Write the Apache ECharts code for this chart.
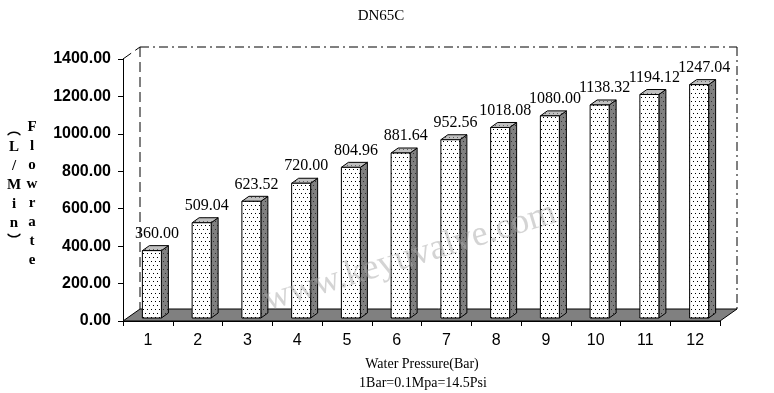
<!DOCTYPE html>
<html>
<head>
<meta charset="utf-8">
<script src="https://cdn.jsdelivr.net/npm/echarts@6/dist/echarts.min.js"></script>
<style>
html,body{margin:0;padding:0;background:#fff;}
#chart{width:774px;height:393px;}
</style>
</head>
<body>
<div id="chart"></div>
<script>
const categories = ['1','2','3','4','5','6','7','8','9','10','11','12'];
const flowValues = [360.00, 509.04, 623.52, 720.00, 804.96, 881.64, 952.56, 1018.08, 1080.00, 1138.32, 1194.12, 1247.04];
const yTicks = [0, 200, 400, 600, 800, 1000, 1200, 1400];
const titleText = 'DN65C';
const xName = 'Water Pressure(Bar)';
const xNote = '1Bar=0.1Mpa=14.5Psi';
const yNameMain = ['F','l','o','w','r','a','t','e'];
const yNameUnit = ['L','/','M','i','n'];
const watermark = 'www.keyuvalve.com';

function makePattern(bg, dot) {
  const c = document.createElement('canvas');
  c.width = 4; c.height = 8;
  const ctx = c.getContext('2d');
  ctx.fillStyle = bg; ctx.fillRect(0, 0, 4, 8);
  ctx.fillStyle = dot;
  ctx.fillRect(1, 1, 1, 1);
  ctx.fillRect(3, 5, 1, 1);
  return c;
}
const frontPat = makePattern('#ffffff', '#000000');
const sidePat = makePattern('#808080', '#303030');
const topPat = makePattern('#c0c0c0', '#606060');

const DX = 17, DY = -12;   // floor / wall depth
const BDX = 7, BDY = -5;    // bar depth
const OX = 4, OY = -3;      // bar offset into depth
const BW = 19;

const chart = echarts.init(document.getElementById('chart'), null, {renderer: 'canvas'});

const serif = '"Liberation Serif", "Times New Roman", serif';
const sans = '"Liberation Sans", Arial, sans-serif';

const option = {
  animation: false,
  backgroundColor: '#ffffff',
  title: {
    text: titleText, left: 376, top: 4, textAlign: 'center',
    textStyle: {fontFamily: serif, fontSize: 15, fontWeight: 'normal', color: '#000'}
  },
  grid: {left: 123, right: 54, top: 59, bottom: 72},
  xAxis: {
    type: 'category', data: categories,
    axisLine: {lineStyle: {color: '#000', width: 1}},
    axisTick: {show: true, length: 5, lineStyle: {color: '#000'}},
    axisLabel: {margin: 12, fontFamily: sans, fontSize: 16, color: '#000'},
    splitLine: {show: false}
  },
  yAxis: {
    type: 'value', min: yTicks[0], max: yTicks[yTicks.length - 1], interval: yTicks[1] - yTicks[0],
    axisLine: {show: true, lineStyle: {color: '#000', width: 1}},
    axisTick: {show: true, length: 5, lineStyle: {color: '#000'}},
    axisLabel: {margin: 12, fontFamily: sans, fontSize: 16, fontWeight: 'bold', color: '#000',
      formatter: v => v.toFixed(2)},
    splitLine: {show: false}
  },
  graphic: [
    {type: 'text', x: 422, y: 364, z: 10, style: {text: xName, font: '14px ' + serif, fill: '#000', textAlign: 'center', textVerticalAlign: 'middle'}},
    {type: 'text', x: 423, y: 383, z: 10, style: {text: xNote, font: '14px ' + serif, fill: '#000', textAlign: 'center', textVerticalAlign: 'middle'}},
    {type: 'text', x: 32, y: 118, z: 10, style: {text: yNameMain.join('\n'), font: 'bold 15px ' + serif, lineHeight: 19, fill: '#000', textAlign: 'center', textVerticalAlign: 'top'}},
    {type: 'text', x: 14, y: 138, z: 10, style: {text: yNameUnit.join('\n'), font: 'bold 15px ' + serif, lineHeight: 19, fill: '#000', textAlign: 'center', textVerticalAlign: 'top'}},
    {type: 'text', x: 14, y: 129, z: 10, style: {text: '︵', font: 'bold 14px "Noto Sans CJK SC"', fill: '#000', textAlign: 'center', textVerticalAlign: 'middle'}},
    {type: 'text', x: 14, y: 240, z: 10, style: {text: '︶', font: 'bold 14px "Noto Sans CJK SC"', fill: '#000', textAlign: 'center', textVerticalAlign: 'middle'}},
    {type: 'text', x: 410, y: 257, rotation: 17 * Math.PI / 180, z: 100, style: {text: watermark, font: '36px ' + serif, fill: 'rgba(170,170,170,0.5)', textAlign: 'center', textVerticalAlign: 'middle'}}
  ],
  series: [
    {
      type: 'custom', z: 1, silent: true,
      data: [[0]],
      renderItem: function (params, api) {
        const cs = params.coordSys;
        const L = cs.x, R = cs.x + cs.width, T = cs.y, B = cs.y + cs.height;
        const dash = [9, 4, 2, 4];
        return {
          type: 'group',
          children: [
            {type: 'polygon', shape: {points: [[L, B], [R, B], [R + DX, B + DY], [L + DX, B + DY]]},
              style: {fill: '#808080', stroke: '#000', lineWidth: 1}},
            {type: 'line', shape: {x1: L + DX, y1: T + DY, x2: R + DX, y2: T + DY}, style: {stroke: '#000', lineWidth: 1, lineDash: dash}},
            {type: 'line', shape: {x1: L + DX, y1: T + DY, x2: L + DX, y2: B + DY}, style: {stroke: '#000', lineWidth: 1, lineDash: [10, 5]}},
            {type: 'line', shape: {x1: R + DX, y1: T + DY, x2: R + DX, y2: B + DY}, style: {stroke: '#000', lineWidth: 1, lineDash: dash}},
            {type: 'line', shape: {x1: L, y1: T, x2: L + DX, y2: T + DY}, style: {stroke: '#000', lineWidth: 1, lineDash: [10, 5]}}
          ]
        };
      }
    },
    {
      type: 'custom', z: 5, silent: true,
      data: flowValues.map((v, i) => [i, v]),
      renderItem: function (params, api) {
        const i = api.value(0), v = api.value(1);
        const base = api.coord([i, 0]);
        const top = api.coord([i, v]);
        const x0 = base[0] - BW / 2 + OX;
        const x1 = x0 + BW;
        const yb = base[1] + OY;
        const yt = top[1] + OY;
        return {
          type: 'group',
          children: [
            {type: 'polygon', shape: {points: [[x1, yb], [x1 + BDX, yb + BDY], [x1 + BDX, yt + BDY], [x1, yt]]},
              style: {fill: {image: sidePat, repeat: 'repeat'}, stroke: '#000', lineWidth: 1}},
            {type: 'polygon', shape: {points: [[x0, yt], [x1, yt], [x1 + BDX, yt + BDY], [x0 + BDX, yt + BDY]]},
              style: {fill: {image: topPat, repeat: 'repeat'}, stroke: '#000', lineWidth: 1}},
            {type: 'rect', shape: {x: x0, y: yt, width: BW, height: yb - yt},
              style: {fill: {image: frontPat, repeat: 'repeat'}, stroke: '#000', lineWidth: 1}},
            {type: 'text', x: x0 + BW / 2 + 5, y: yt - 17,
              style: {text: v.toFixed(2), font: '16px ' + serif, fill: '#000', textAlign: 'center', textVerticalAlign: 'middle'}}
          ]
        };
      }
    }
  ]
};
chart.setOption(option);
</script>
</body>
</html>
